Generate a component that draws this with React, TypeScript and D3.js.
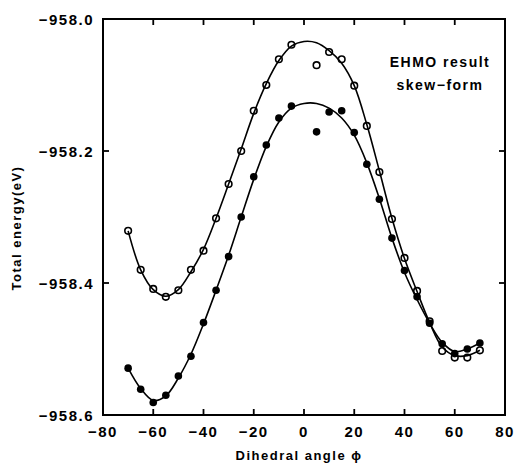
import React from "react";
import * as d3 from "d3";

// Measured points (dihedral angle, total energy in eV)
const pointAngles = [-70, -65, -60, -55, -50, -45, -40, -35, -30, -25, -20, -15, -10, -5, 5, 10, 15, 20, 25, 30, 35, 40, 45, 50, 55, 60, 65, 70];
const openValues = [-958.321, -958.380, -958.409, -958.421, -958.411, -958.380, -958.351, -958.302, -958.250, -958.200, -958.139, -958.100, -958.061, -958.039, -958.070, -958.050, -958.061, -958.101, -958.162, -958.232, -958.303, -958.362, -958.412, -958.458, -958.503, -958.513, -958.513, -958.502];
const filledValues = [-958.529, -958.561, -958.581, -958.570, -958.541, -958.511, -958.460, -958.411, -958.360, -958.300, -958.239, -958.191, -958.150, -958.132, -958.171, -958.141, -958.139, -958.172, -958.220, -958.273, -958.332, -958.381, -958.421, -958.461, -958.492, -958.507, -958.500, -958.491];

// Fitted curves
const curveAngles = [-70, -65, -60, -55, -50, -45, -40, -35, -30, -25, -20, -15, -10, -5, 0, 5, 10, 15, 20, 25, 30, 35, 40, 45, 50, 55, 60, 65, 70];
const openCurve = [-958.321, -958.380, -958.410, -958.420, -958.410, -958.383, -958.349, -958.302, -958.250, -958.197, -958.143, -958.098, -958.063, -958.041, -958.034, -958.036, -958.048, -958.067, -958.101, -958.160, -958.230, -958.302, -958.363, -958.413, -958.460, -958.497, -958.510, -958.510, -958.502];
const filledCurve = [-958.529, -958.560, -958.578, -958.571, -958.544, -958.508, -958.462, -958.411, -958.358, -958.300, -958.243, -958.193, -958.156, -958.135, -958.128, -958.128, -958.135, -958.150, -958.176, -958.218, -958.272, -958.332, -958.384, -958.425, -958.461, -958.490, -958.504, -958.500, -958.491];

const xTicks = [-80, -60, -40, -20, 0, 20, 40, 60, 80];
const yTicks = [-958.0, -958.2, -958.4, -958.6];
const xTickLabels = ["\u221280", "\u221260", "\u221240", "\u221220", "0", "20", "40", "60", "80"];
const yTickLabels = ["\u2212958.0", "\u2212958.2", "\u2212958.4", "\u2212958.6"];
const legendLines = ["EHMO result", "skew\u2212form"];

const W = 514;
const H = 465;
const L = 103, R = 505, T = 19, B = 415;
const FONT = "'Liberation Sans', Arial, sans-serif";

export default function App() {
  const x = d3.scaleLinear().domain([-80, 80]).range([L, R]);
  const y = d3.scaleLinear().domain([-958.6, -958.0]).range([B, T]);
  const line = d3
    .line<[number, number]>()
    .x((d) => x(d[0]))
    .y((d) => y(d[1]))
    .curve(d3.curveCatmullRom.alpha(0.5));

  const openPath = line(curveAngles.map((a, i) => [a, openCurve[i]] as [number, number])) || "";
  const filledPath = line(curveAngles.map((a, i) => [a, filledCurve[i]] as [number, number])) || "";
  const tickLen = 6;

  return (
    <svg width={W} height={H} style={{ position: "absolute", left: 0, top: 0, background: "#fff" }}>
      <rect x={0} y={0} width={W} height={H} fill="#fff" />
      {/* frame */}
      <rect x={L} y={T} width={R - L} height={B - T} fill="none" stroke="#000" strokeWidth={2} />
      {/* x ticks */}
      {xTicks.slice(1, -1).map((t) => (
        <g key={"xt" + t}>
          <line x1={x(t)} x2={x(t)} y1={B} y2={B - tickLen} stroke="#000" strokeWidth={1.8} />
          <line x1={x(t)} x2={x(t)} y1={T} y2={T + tickLen} stroke="#000" strokeWidth={1.8} />
        </g>
      ))}
      {xTicks.map((t, i) => (
        <text key={"xl" + t} x={x(t)} y={437} textAnchor="middle" fontFamily={FONT} fontWeight="bold" fontSize={15} letterSpacing={1.5} fill="#000">
          {xTickLabels[i]}
        </text>
      ))}
      {/* y ticks */}
      {yTicks.slice(1, -1).map((t) => (
        <g key={"yt" + t}>
          <line x1={L} x2={L + tickLen} y1={y(t)} y2={y(t)} stroke="#000" strokeWidth={1.8} />
          <line x1={R} x2={R - tickLen} y1={y(t)} y2={y(t)} stroke="#000" strokeWidth={1.8} />
        </g>
      ))}
      {yTicks.map((t, i) => (
        <text key={"yl" + t} x={94} y={y(t) + 5.5} textAnchor="end" fontFamily={FONT} fontWeight="bold" fontSize={15} letterSpacing={1.5} fill="#000">
          {yTickLabels[i]}
        </text>
      ))}
      {/* axis titles */}
      <text x={299} y={460} textAnchor="middle" fontFamily={FONT} fontWeight="bold" fontSize={13} letterSpacing={1.5} fill="#000">
        Dihedral angle ϕ
      </text>
      <text transform="translate(21,228) rotate(-90)" textAnchor="middle" fontFamily={FONT} fontWeight="bold" fontSize={13} letterSpacing={1.5} fill="#000">
        Total energy(eV)
      </text>
      {/* legend */}
      {legendLines.map((s, i) => (
        <text key={s} x={440} y={67 + i * 23} textAnchor="middle" fontFamily={FONT} fontWeight="bold" fontSize={14} letterSpacing={1.5} fill="#000">
          {s}
        </text>
      ))}
      {/* curves */}
      <path d={openPath} fill="none" stroke="#000" strokeWidth={1.6} />
      <path d={filledPath} fill="none" stroke="#000" strokeWidth={1.6} />
      {/* points */}
      {pointAngles.map((a, i) => (
        <circle key={"o" + a} cx={x(a)} cy={y(openValues[i])} r={3.3} fill="none" stroke="#000" strokeWidth={1.6} />
      ))}
      {pointAngles.map((a, i) => (
        <circle key={"f" + a} cx={x(a)} cy={y(filledValues[i])} r={3.8} fill="#000" />
      ))}
    </svg>
  );
}
